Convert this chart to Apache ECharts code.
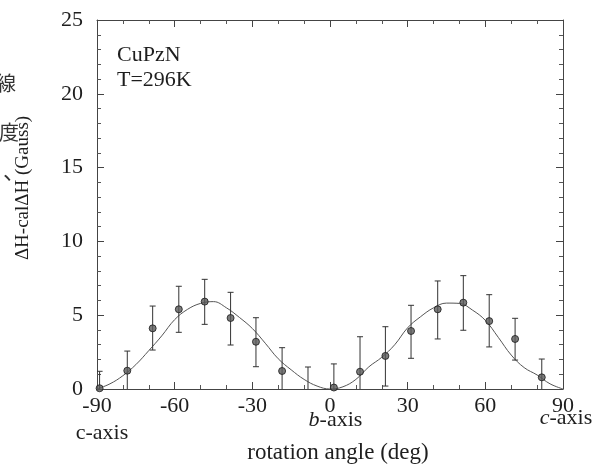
<!DOCTYPE html>
<html>
<head>
<meta charset="utf-8">
<script src="https://cdn.jsdelivr.net/npm/echarts@6/dist/echarts.min.js"></script>
<style>html,body{margin:0;padding:0;background:#fff;}#c{width:612px;height:472px;}</style>
</head>
<body>
<div id="c"></div>
<script>
// Measured points (rotation angle, ΔH-calΔH) and error bar ends
const angles  = [-89, -78.3, -68.5, -58.4, -48.4, -38.4, -28.6, -18.5, -8.5, 1.5, 11.6, 21.4, 31.3, 41.6, 51.5, 61.5, 71.5, 81.8];
const values  = [0.05, 1.24, 4.11, 5.4, 5.92, 4.81, 3.2, 1.22, -0.1, 0.1, 1.17, 2.24, 3.93, 5.4, 5.85, 4.6, 3.39, 0.79];
const errLow  = [-1.1, -0.1, 2.64, 3.84, 4.38, 2.98, 1.51, -0.36, -1.7, -1.5, -1.2, 0.2, 2.08, 3.39, 3.98, 2.85, 1.96, -0.45];
const errHigh = [1.2, 2.57, 5.62, 6.96, 7.43, 6.55, 4.83, 2.8, 1.49, 1.7, 3.54, 4.22, 5.67, 7.32, 7.68, 6.39, 4.79, 2.03];

// Fitted curve
const curveAngles = [-90,-85,-80,-75,-70,-65,-60,-55,-50,-45,-40,-35,-30,-25,-20,-15,-10,-5,0,5,10,15,20,25,30,35,40,45,50,55,60,65,70,75,80,85,90];
const curveValues = [0,0.35,0.9,1.65,2.6,3.6,4.7,5.4,5.8,5.92,5.5,4.85,4.1,3.1,2.05,1.3,0.65,0.2,0,0.15,0.65,1.5,2.15,3.0,4.15,4.9,5.5,5.82,5.8,5.35,4.65,3.5,2.3,1.45,0.95,0.35,0];

// Tick settings
const xTicks = {min: -90, max: 90, interval: 30, minorSplit: 3};
const yTicks = {min: 0, max: 25, interval: 5, minorSplit: 5};

const serif = 'Liberation Serif';
const ink = '#1e1e1e';

const chart = echarts.init(document.getElementById('c'), null, {renderer: 'canvas'});

function mkX(pos, showLabel) {
  return {
    type: 'value', position: pos, min: xTicks.min, max: xTicks.max, interval: xTicks.interval,
    axisLine: {show: true, onZero: false, lineStyle: {color: '#444', width: 1}},
    axisTick: {show: true, inside: true, length: 7, lineStyle: {color: '#444', width: 1}},
    minorTick: {show: true, splitNumber: xTicks.minorSplit, length: 4, lineStyle: {color: '#555', width: 1}},
    splitLine: {show: false}, minorSplitLine: {show: false},
    axisLabel: {show: showLabel, fontFamily: serif, fontSize: 22, color: ink, margin: 6}
  };
}
function mkY(pos, showLabel) {
  return {
    type: 'value', position: pos, min: yTicks.min, max: yTicks.max, interval: yTicks.interval,
    axisLine: {show: true, onZero: false, lineStyle: {color: '#444', width: 1}},
    axisTick: {show: true, inside: true, length: 7, lineStyle: {color: '#444', width: 1}},
    minorTick: {show: true, splitNumber: yTicks.minorSplit, length: 4, lineStyle: {color: '#555', width: 1}},
    splitLine: {show: false}, minorSplitLine: {show: false},
    axisLabel: {show: showLabel, fontFamily: serif, fontSize: 22, color: ink, margin: 14}
  };
}

const pts = angles.map((a, i) => [a, values[i]]);
const bars = angles.map((a, i) => [a, errLow[i], errHigh[i]]);
const curve = curveAngles.map((a, i) => [a, curveValues[i]]);

const option = {
  animation: false,
  backgroundColor: '#fff',
  grid: {left: 97, right: 49, top: 20, bottom: 83, containLabel: false},
  xAxis: [mkX('bottom', true), mkX('top', false)],
  yAxis: [mkY('left', true), mkY('right', false)],
  series: [
    {
      type: 'line', data: curve, smooth: 0.4, showSymbol: false, symbol: 'none',
      lineStyle: {color: '#555', width: 1}, clip: true, z: 2
    },
    {
      type: 'custom', data: bars, clip: true, z: 3,
      renderItem: function (params, api) {
        const x = api.value(0);
        const lo = api.coord([x, api.value(1)]);
        const hi = api.coord([x, api.value(2)]);
        const w = 3;
        const st = {stroke: '#333', lineWidth: 1};
        return {
          type: 'group',
          children: [
            {type: 'line', shape: {x1: lo[0], y1: lo[1], x2: hi[0], y2: hi[1]}, style: st},
            {type: 'line', shape: {x1: hi[0] - w, y1: hi[1], x2: hi[0] + w, y2: hi[1]}, style: st},
            {type: 'line', shape: {x1: lo[0] - w, y1: lo[1], x2: lo[0] + w, y2: lo[1]}, style: st}
          ]
        };
      }
    },
    {
      type: 'scatter', data: pts, symbol: 'circle', symbolSize: 7, clip: true, z: 4,
      itemStyle: {color: '#5a5a5a', borderColor: '#1a1a1a', borderWidth: 1}
    }
  ],
  graphic: [
    {type: 'text', x: 117, y: 55, style: {text: 'CuPzN', font: '22px "Liberation Serif"', fill: ink, textAlign: 'left', textVerticalAlign: 'middle'}},
    {type: 'text', x: 117, y: 80, style: {text: 'T=296K', font: '22px "Liberation Serif"', fill: ink, textAlign: 'left', textVerticalAlign: 'middle'}},
    {type: 'text', x: 102, y: 433.5, style: {text: 'c-axis', font: '22px "Liberation Serif"', fill: ink, textAlign: 'center', textVerticalAlign: 'middle'}},
    {type: 'text', x: 335.5, y: 420, style: {rich: {i: {fontStyle: 'italic', fontFamily: serif, fontSize: 22, fill: ink}, n: {fontFamily: serif, fontSize: 22, fill: ink}}, text: '{i|b}{n|-axis}', textAlign: 'center', textVerticalAlign: 'middle'}},
    {type: 'text', x: 566, y: 418, style: {rich: {i: {fontStyle: 'italic', fontFamily: serif, fontSize: 22, fill: ink}, n: {fontFamily: serif, fontSize: 22, fill: ink}}, text: '{i|c}{n|-axis}', textAlign: 'center', textVerticalAlign: 'middle'}},
    {type: 'text', x: 338, y: 452.5, style: {text: 'rotation angle (deg)', font: '23px "Liberation Serif"', fill: ink, textAlign: 'center', textVerticalAlign: 'middle'}},
    {type: 'text', x: 23.5, y: 188, rotation: Math.PI / 2, style: {text: 'ΔH-calΔH (Gauss)', font: '19px "Liberation Serif"', fill: ink, textAlign: 'center', textVerticalAlign: 'middle'}},
    {type: 'text', x: 6, y: 83, style: {text: '線', font: '20px "Noto Sans CJK JP"', fill: '#333', textAlign: 'center', textVerticalAlign: 'middle'}},
    {type: 'text', x: 9, y: 132, style: {text: '度', font: '20px "Noto Sans CJK JP"', fill: '#333', textAlign: 'center', textVerticalAlign: 'middle'}},
    {type: 'text', x: 14, y: 171, style: {text: '、', font: '22px "Noto Sans CJK JP"', fill: '#333', textAlign: 'center', textVerticalAlign: 'middle'}}
  ]
};
chart.setOption(option);
</script>
</body>
</html>
